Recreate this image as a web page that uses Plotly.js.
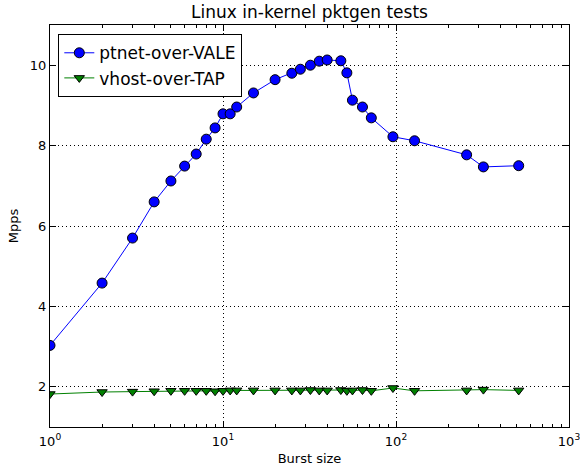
<!DOCTYPE html>
<html>
<head>
<meta charset="utf-8">
<script src="https://cdn.plot.ly/plotly-3.0.1.min.js"></script>
<style>html,body{margin:0;padding:0;background:#fff;}#chart{width:580px;height:468px;}</style>
</head>
<body>
<div id="chart"></div>
<script>
const burstSizes = [1,2,3,4,5,6,7,8,9,10,11,12,15,20,25,28,32,36,40,48,52,56,64,72,96,128,256,320,512];
const ptnetVale = [3.03,4.58,5.70,6.60,7.12,7.49,7.79,8.16,8.44,8.79,8.79,8.96,9.31,9.64,9.80,9.90,10.00,10.10,10.13,10.11,9.81,9.13,8.96,8.69,8.22,8.12,7.77,7.47,7.50];
const vhostTap = [1.82,1.87,1.88,1.89,1.90,1.90,1.90,1.90,1.89,1.90,1.91,1.91,1.91,1.91,1.91,1.91,1.92,1.91,1.91,1.92,1.90,1.91,1.92,1.90,1.97,1.90,1.91,1.93,1.91];
const xTickVals = [1,10,100,1000];
const xTickText = ['10<sup>0</sup>','10<sup>1</sup>','10<sup>2</sup>','10<sup>3</sup>'];
const yTickVals = [2,4,6,8,10];

const minorVals = [];
for (let d = 1; d <= 100; d *= 10) for (let m = 2; m <= 9; m++) minorVals.push(m * d);

const font = 'DejaVu Sans, sans-serif';
const traces = [
  {x: burstSizes, y: ptnetVale, name: 'ptnet-over-VALE', mode: 'lines+markers',
   line: {color: '#0000ff', width: 1},
   marker: {symbol: 'circle', size: 10, color: '#0000ff', line: {color: '#000', width: 1}}},
  {x: burstSizes, y: vhostTap, name: 'vhost-over-TAP', mode: 'lines+markers',
   line: {color: '#008000', width: 1},
   marker: {symbol: 'triangle-down', size: 9, color: '#008000', line: {color: '#000', width: 1}}}
];
const axisCommon = {
  showline: true, linecolor: '#000', linewidth: 1, mirror: 'allticks',
  ticks: 'inside', ticklen: 6, tickcolor: '#000', tickwidth: 1,
  showgrid: true, gridcolor: '#000', griddash: '1px,3px', gridwidth: 1,
  zeroline: false, ticklabeloverflow: 'allow',
  tickfont: {family: font, size: 13, color: '#000'}
};
const layout = {
  width: 580, height: 468,
  margin: {l: 50, r: 11, t: 25, b: 41},
  paper_bgcolor: '#fff', plot_bgcolor: '#fff',
  font: {family: font, color: '#000'},
  title: {text: 'Linux in-kernel pktgen tests', font: {family: font, size: 17, color: '#000'},
          x: 0.5, xref: 'paper', xanchor: 'center', y: 1 - 12/468, yanchor: 'middle', yref: 'container'},
  xaxis: Object.assign({}, axisCommon, {
    type: 'log', range: [0, 3], tickvals: xTickVals, ticktext: xTickText,
    ticklabelstandoff: 2,
    minor: {tickvals: minorVals, ticks: 'inside', ticklen: 3, tickcolor: '#000', showgrid: false},
    title: {text: 'Burst size', font: {family: font, size: 13, color: '#000'}, standoff: 6}
  }),
  yaxis: Object.assign({}, axisCommon, {
    range: [1, 11], tickvals: yTickVals,
    title: {text: 'Mpps', font: {family: font, size: 13, color: '#000'}, standoff: 8}
  }),
  legend: {x: 0.016, y: 0.977, xanchor: 'left', yanchor: 'top',
    bordercolor: '#000', borderwidth: 1, bgcolor: '#fff',
    font: {family: font, size: 17, color: '#000'}, tracegroupgap: 0},
  showlegend: true
};
Plotly.newPlot('chart', traces, layout, {displayModeBar: false, staticPlot: true});
</script>
</body>
</html>
